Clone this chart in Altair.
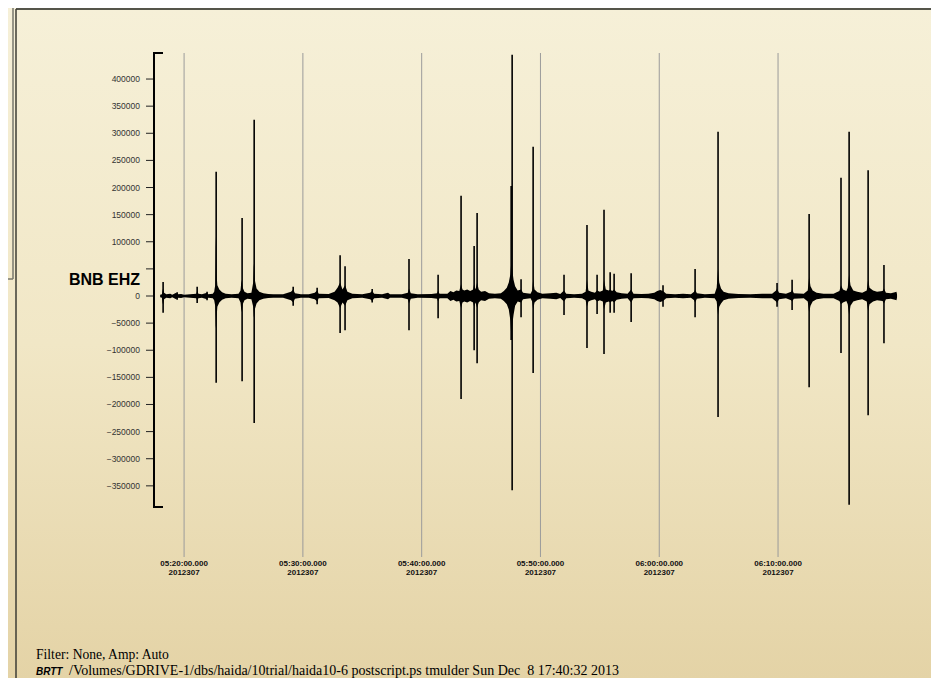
import altair as alt
import pandas as pd

# ---- data -----------------------------------------------------------------
# time = seconds after 05:00:00 (day 2012307); amplitude in counts
env_t = [1079, 1088, 1091, 1094, 1099, 1110, 1130, 1140, 1160, 1167, 1185, 1200, 1230, 1262,
         1266, 1272, 1290, 1316, 1322, 1345, 1352, 1357, 1360, 1364, 1368, 1378, 1392, 1410,
         1440, 1475, 1485, 1490, 1496, 1505, 1520, 1540, 1549, 1552, 1557, 1566, 1580, 1600,
         1625, 1650, 1700, 1740, 1751, 1760, 1790, 1830, 1860, 1872, 1880, 1930, 1960, 1975,
         1988, 2000, 2013, 2025, 2050, 2100, 2140, 2150, 2160, 2200, 2230, 2240, 2300, 2330,
         2336, 2345, 2380, 2450, 2478, 2483, 2490, 2530, 2545, 2560, 2575, 2590, 2599, 2606,
         2615, 2630, 2645, 2660, 2665, 2672, 2680, 2688, 2700, 2720, 2740, 2770, 2800, 2815,
         2830, 2840, 2848, 2852, 2857, 2864, 2872, 2885, 2902, 2912, 2930, 2950, 2958, 2963,
         2970, 2985, 3010, 3050, 3080, 3100, 3119, 3130, 3170, 3210, 3228, 3235, 3242, 3256,
         3275, 3286, 3300, 3315, 3321, 3330, 3345, 3352, 3362, 3372, 3385, 3410, 3440, 3458,
         3470, 3510, 3545, 3575, 3590, 3605, 3619, 3635, 3680, 3720, 3760, 3776, 3781, 3790,
         3830, 3880, 3890, 3897, 3903, 3912, 3925, 3950, 4000, 4060, 4120, 4170, 4190, 4195,
         4205, 4240, 4266, 4271, 4280, 4330, 4350, 4357, 4364, 4375, 4395, 4430, 4480, 4510,
         4518, 4528, 4545, 4552, 4559, 4566, 4580, 4600, 4625, 4648, 4655, 4662, 4680, 4700,
         4728, 4735, 4745, 4770, 4790, 4798, 4801]
env_hi = [2500, 3000, 10000, 14000, 6000, 3000, 4000, 2500, 6000, 3000, 3500, 2500, 3000, 4000,
          10000, 4000, 3000, 6000, 3000, 4000, 8000, 20000, 110000, 40000, 20000, 12000, 7000, 4000,
          3000, 4000, 10000, 30000, 15000, 8000, 5000, 6000, 25000, 60000, 30000, 14000, 8000, 5000,
          3500, 3000, 3000, 8000, 12000, 5000, 3000, 3000, 6000, 10000, 4000, 3500, 8000, 15000,
          25000, 12000, 20000, 8000, 4000, 3000, 6000, 9000, 4000, 3000, 6000, 3000, 3000, 6000,
          14000, 5000, 3000, 3500, 5000, 10000, 4000, 4000, 9000, 7000, 10000, 9000, 22000, 12000,
          10000, 12000, 9000, 12000, 22000, 12000, 25000, 12000, 8000, 9000, 5000, 4000, 5000, 9000,
          15000, 25000, 40000, 60000, 50000, 30000, 18000, 10000, 12000, 6000, 5000, 4000, 10000, 30000,
          12000, 7000, 4000, 5000, 6000, 3500, 10000, 4000, 3000, 4000, 8000, 30000, 10000, 8000,
          6000, 10000, 8000, 10000, 30000, 12000, 10000, 12000, 9000, 12000, 7000, 5000, 4000, 12000,
          4000, 3500, 4000, 6000, 9000, 11000, 9000, 4000, 3000, 4000, 3000, 8000, 12000, 5000,
          3000, 4000, 15000, 50000, 25000, 14000, 8000, 5000, 3500, 3000, 4000, 4000, 10000, 13000,
          6000, 4000, 8000, 12000, 5000, 4000, 10000, 35000, 18000, 10000, 6000, 4000, 4000, 9000,
          20000, 12000, 9000, 15000, 40000, 20000, 10000, 8000, 6000, 10000, 30000, 15000, 10000, 8000,
          9000, 14000, 6000, 5000, 7000, 8000, 3000]
env_lo = [-2500, -3000, -12000, -16000, -6000, -3000, -4000, -2500, -6000, -3000, -3500, -2500, -3000, -4000,
          -9000, -4000, -3000, -6000, -3000, -4000, -8000, -18000, -60000, -40000, -20000, -12000, -7000, -4000,
          -3000, -4000, -12000, -30000, -15000, -8000, -5000, -6000, -20000, -40000, -25000, -14000, -8000, -5000,
          -3500, -3000, -3000, -8000, -12000, -5000, -3000, -3000, -6000, -10000, -4000, -3500, -8000, -12000,
          -22000, -12000, -18000, -8000, -4000, -3000, -6000, -9000, -4000, -3000, -6000, -3000, -3000, -6000,
          -14000, -5000, -3000, -3500, -5000, -10000, -4000, -4000, -9000, -7000, -10000, -9000, -22000, -12000,
          -10000, -12000, -9000, -12000, -20000, -12000, -22000, -12000, -8000, -9000, -5000, -4000, -5000, -9000,
          -15000, -25000, -45000, -70000, -55000, -35000, -18000, -10000, -12000, -6000, -5000, -4000, -10000, -25000,
          -12000, -7000, -4000, -5000, -6000, -3500, -10000, -4000, -3000, -4000, -8000, -20000, -10000, -8000,
          -6000, -10000, -8000, -10000, -25000, -12000, -10000, -12000, -9000, -12000, -7000, -5000, -4000, -12000,
          -4000, -3500, -4000, -6000, -9000, -11000, -9000, -4000, -3000, -4000, -3000, -8000, -12000, -5000,
          -3000, -4000, -10000, -35000, -20000, -14000, -8000, -5000, -3500, -3000, -4000, -4000, -10000, -13000,
          -6000, -4000, -8000, -10000, -5000, -4000, -10000, -30000, -18000, -10000, -6000, -4000, -4000, -9000,
          -15000, -12000, -9000, -15000, -35000, -18000, -10000, -8000, -6000, -10000, -28000, -15000, -10000, -8000,
          -9000, -14000, -6000, -5000, -7000, -8000, -3000]

spike_t = [1094, 1165, 1266, 1316, 1362, 1493, 1554, 1751, 1872, 1988, 2013, 2150, 2336, 2483,
           2599, 2665, 2680, 2852, 2857, 2902, 2963, 3119, 3235, 3286, 3321, 3352, 3372, 3458,
           3619, 3781, 3897, 4195, 4271, 4357, 4518, 4559, 4655, 4735]
spike_hi = [26000, 7000, 17000, 8000, 229000, 144000, 325000, 17000, 15000, 75000, 55000, 13000,
            68000, 39000, 185000, 92000, 153000, 203000, 445000, 31000, 275000, 39000, 131000,
            39000, 159000, 44000, 41000, 42000, 20000, 50000, 303000, 24000, 30000, 151000,
            218000, 303000, 232000, 57000]
spike_lo = [-31000, -7000, -13000, -8000, -160000, -157000, -234000, -18000, -15000, -68000,
            -63000, -12000, -63000, -41000, -190000, -100000, -124000, -81000, -358000, -39000,
            -142000, -35000, -96000, -33000, -107000, -31000, -31000, -48000, -20000, -39000,
            -223000, -20000, -26000, -168000, -105000, -385000, -220000, -87000]

grid_t = [1200, 1800, 2400, 3000, 3600, 4200]          # 05:20 ... 06:10
y_ticks = list(range(-350000, 400001, 50000))
y_labels = [v for v in y_ticks if v != 50000]          # 50000 is hidden by the station name
station = "BNB EHZ"
day_label = "2012307"
filter_text = "Filter: None, Amp: Auto"
brand = "BRTT"
footer = "/Volumes/GDRIVE-1/dbs/haida/10trial/haida10-6 postscript.ps tmulder Sun Dec\u00a0 8 17:40:32 2013"

# ---- chart ------------------------------------------------------------------
W, H = 746, 454
PAD = {"left": 146, "top": 45, "right": 31, "bottom": 171}

xs = alt.Scale(domain=[1048, 4816], nice=False, zero=False)
ys = alt.Scale(domain=[-389000, 448000], nice=False, zero=False)

env_df = pd.DataFrame({"t": env_t, "hi": env_hi, "lo": env_lo})
spk_df = pd.DataFrame({"t": spike_t, "hi": spike_hi, "lo": spike_lo})
grid_df = pd.DataFrame({"t": grid_t})
grid_df["time"] = [f"{5 + s // 3600:02d}:{(s % 3600) // 60:02d}:{s % 60:02d}.000" for s in grid_t]
grid_df["day"] = day_label
ytick_df = pd.DataFrame({"v": y_ticks})
ylab_df = pd.DataFrame({"v": y_labels})
one = pd.DataFrame({"a": [0]})

SANS = "Liberation Sans"
SERIF = "Liberation Serif"

bg = alt.Chart(one).mark_rect(
    color=alt.Gradient(gradient="linear", x1=0, x2=0, y1=0, y2=1,
                       stops=[alt.GradientStop(offset=0, color="#F6F0D8"),
                              alt.GradientStop(offset=0.5, color="#F1E7C6"),
                              alt.GradientStop(offset=1, color="#E4D3A6")])
).encode(x=alt.value(-PAD["left"]), x2=alt.value(W + PAD["right"]),
         y=alt.value(-PAD["top"]), y2=alt.value(H + PAD["bottom"]))


def seg(x1, x2, y1, y2, color, width):
    return alt.Chart(one).mark_rule(color=color, strokeWidth=width).encode(
        x=alt.value(x1), x2=alt.value(x2), y=alt.value(y1), y2=alt.value(y2))


frame = [
    seg(-138, 778, -44, -44, "#55554a", 2),
    seg(778, 778, -44, H + PAD["bottom"], "#55554a", 2),
    seg(-138, -138, -44, H + PAD["bottom"], "#3c3c34", 1.5),
    seg(-141, -141, -PAD["top"], 226, "#77776c", 1.5),
    seg(-PAD["left"], -141, 226, 226, "#77776c", 1.5),
]

grid = alt.Chart(grid_df).mark_rule(color="#9b9b9b", strokeWidth=1).encode(
    x=alt.X("t:Q", scale=xs, axis=None),
    y=alt.value(0), y2=alt.value(H + 50))

xlab1 = alt.Chart(grid_df).mark_text(font=SANS, fontWeight="bold", fontSize=8, color="#111",
                                     baseline="middle").encode(
    x=alt.X("t:Q", scale=xs, axis=None), y=alt.value(H + 57), text="time:N")
xlab2 = alt.Chart(grid_df).mark_text(font=SANS, fontWeight="bold", fontSize=8, color="#111",
                                     baseline="middle").encode(
    x=alt.X("t:Q", scale=xs, axis=None), y=alt.value(H + 66), text="day:N")

yticks = alt.Chart(ytick_df).mark_rule(color="#222", strokeWidth=1).encode(
    y=alt.Y("v:Q", scale=ys, axis=None), x=alt.value(-8), x2=alt.value(0))
ylabels = alt.Chart(ylab_df).mark_text(font=SANS, fontSize=8.5, color="#333", align="right",
                                       baseline="middle").encode(
    y=alt.Y("v:Q", scale=ys, axis=None), x=alt.value(-14), text=alt.Text("v:Q", format="d"))
ydomain = seg(0, 0, 0, H, "#000", 2)
caps = [seg(-1, 9, 0, 0, "#000", 2), seg(-1, 9, H, H, "#000", 2)]

env = alt.Chart(env_df).mark_area(color="#000", interpolate="linear").encode(
    x=alt.X("t:Q", scale=xs, axis=None),
    y=alt.Y("hi:Q", scale=ys, axis=None),
    y2="lo:Q")

spikes = alt.Chart(spk_df).mark_rule(color="#000", strokeWidth=1.6).encode(
    x=alt.X("t:Q", scale=xs, axis=None),
    y=alt.Y("hi:Q", scale=ys, axis=None),
    y2="lo:Q")


def label(text, x, y, font, size, weight="normal", style="normal", align="left", baseline="alphabetic"):
    return alt.Chart(one).mark_text(text=text, font=font, fontSize=size, fontWeight=weight,
                                    fontStyle=style, align=align, baseline=baseline,
                                    color="#000").encode(x=alt.value(x), y=alt.value(y))


texts = [
    label(station, -14, 227, SANS, 16, weight="bold", align="right", baseline="middle"),
    label(filter_text, -118, 606, SERIF, 13.6),
    label(brand, -118, 622, SANS, 10, weight="bold", style="italic"),
    label(footer, -85, 622, SERIF, 14),
]

chart = alt.layer(bg, *frame, grid, xlab1, xlab2, yticks, ylabels, env, spikes,
                  ydomain, *caps, *texts).properties(
    width=W, height=H,
    autosize=alt.AutoSizeParams(type="none"),
    padding=PAD,
    background="#F3EAC9",
).configure_view(stroke=None)

chart.save("out.html", embed_options={"renderer": "svg", "actions": False})
